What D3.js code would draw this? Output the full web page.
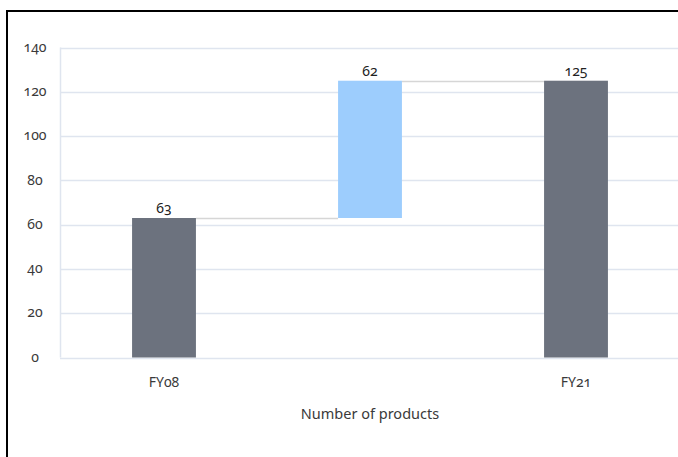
<!DOCTYPE html>
<meta charset="utf-8">
<head>
<style>
  body { margin: 0; background: #fff; }
  text { font-family: "Noto Sans", sans-serif; font-variant-numeric: oldstyle-nums; fill: #3a3a3a; }
</style>
</head>
<body>
<script src="https://cdn.jsdelivr.net/npm/d3@7"></script>
<script>

// waterfall data
var steps = ["start", "change", "end"];
var stepLabels = ["FY08", "", "FY21"];
var stepValues = [63, 62, 125];
var stepKinds = ["total", "delta", "total"];
var yTicks = [0, 20, 40, 60, 80, 100, 120, 140];
var axisTitle = "Number of products";

var W = 678, H = 457;

var svg = d3.select("body").append("svg")
    .attr("width", W)
    .attr("height", H);

// outer frame (runs off the right and bottom edge)
svg.append("rect")
    .attr("x", 7).attr("y", 11)
    .attr("width", W + 20).attr("height", H + 20)
    .attr("fill", "none")
    .attr("stroke", "#000")
    .attr("stroke-width", 2);

var x = d3.scaleBand().domain(steps).range([61, 679]).paddingInner(0.69).paddingOuter(0.345);
var y = d3.scaleLinear().domain([0, 140]).range([357.5, 47.5]);

// build bottoms / tops
var running = 0;
var bars = steps.map(function(s, i) {
  var lo, hi;
  if (stepKinds[i] == "total") { lo = 0; hi = stepValues[i]; running = stepValues[i]; }
  else { lo = running; hi = running + stepValues[i]; running = hi; }
  return {key: s, lo: lo, hi: hi, kind: stepKinds[i], v: stepValues[i]};
});

// gridlines
svg.append("g").selectAll("line").data(yTicks).enter().append("line")
    .attr("x1", 60).attr("x2", W)
    .attr("y1", function(d) { return Math.round(y(d)) + 0.5; })
    .attr("y2", function(d) { return Math.round(y(d)) + 0.5; })
    .attr("stroke", "#dfe5ef")
    .attr("stroke-width", 1.5);

svg.append("line")
    .attr("x1", 60.5).attr("x2", 60.5)
    .attr("y1", y(140)).attr("y2", y(0))
    .attr("stroke", "#dfe5ef")
    .attr("stroke-width", 1.5);

// y tick labels
svg.append("g").selectAll("text").data(yTicks).enter().append("text")
    .attr("x", 35)
    .attr("y", function(d) { return y(d); })
    .attr("dy", "0.3em")
    .attr("text-anchor", "middle")
    .style("font-size", "14px")
    .text(function(d) { return d; });

// connectors
for (var i = 0; i < bars.length - 1; i++) {
  var level = bars[i].hi;
  svg.append("line")
      .attr("x1", x(bars[i].key) + x.bandwidth())
      .attr("x2", x(bars[i + 1].key))
      .attr("y1", Math.round(y(level)) + 0.5)
      .attr("y2", Math.round(y(level)) + 0.5)
      .attr("stroke", "#d6d6d6")
      .attr("stroke-width", 1.5);
}

// bars
svg.append("g").selectAll("rect").data(bars).enter().append("rect")
    .attr("x", function(d) { return x(d.key); })
    .attr("width", x.bandwidth())
    .attr("y", function(d) { return y(d.hi); })
    .attr("height", function(d) { return y(d.lo) - y(d.hi); })
    .attr("fill", function(d) { return d.kind == "total" ? "#6c727e" : "#9dcdfd"; });

// value labels
svg.append("g").selectAll("text").data(bars).enter().append("text")
    .attr("x", function(d) { return x(d.key) + x.bandwidth() / 2; })
    .attr("y", function(d) { return y(d.hi) - 5; })
    .attr("text-anchor", "middle")
    .style("font-size", "14px")
    .style("fill", "#222")
    .text(function(d) { return d.v; });

// category labels
svg.append("g").selectAll("text").data(steps).enter().append("text")
    .attr("x", function(d) { return x(d) + x.bandwidth() / 2; })
    .attr("y", 387)
    .attr("text-anchor", "middle")
    .style("font-size", "14px")
    .text(function(d, i) { return stepLabels[i]; });

svg.append("text")
    .attr("x", 370)
    .attr("y", 419)
    .attr("text-anchor", "middle")
    .style("font-size", "14.5px")
    .text(axisTitle);

</script>
</body>
